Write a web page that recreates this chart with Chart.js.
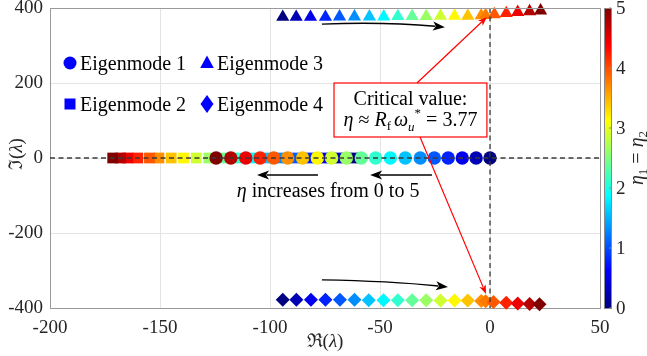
<!DOCTYPE html>
<html>
<head>
<meta charset="utf-8">
<script src="https://cdn.jsdelivr.net/npm/chart.js@4.4.1/dist/chart.umd.min.js"></script>
<style>
body { margin: 0; background: #fff; }
canvas { display: block; }
</style>
</head>
<body>
<canvas id="eigchart" width="647" height="356"></canvas>
<script>
// eta (colour) of every marker, mode 1/2 and mode 3/4 (3/4 has the critical 3.77 point)
const etaMode12 = [0, 0.26, 0.53, 0.79, 1.05, 1.32, 1.58, 1.84, 2.11, 2.37, 2.63, 2.89, 3.16, 3.42, 3.68, 3.95, 4.21, 4.47, 4.74, 5];
const etaMode34 = [0, 0.26, 0.53, 0.79, 1.05, 1.32, 1.58, 1.84, 2.11, 2.37, 2.63, 2.89, 3.16, 3.42, 3.68, 3.77, 3.95, 4.21, 4.47, 4.74, 5];

const mode1Re = [0, -6.3, -12.6, -19, -25.3, -31.7, -38.5, -45.3, -52, -58.5, -65.3, -72, -78.5, -85.2, -92, -98.3, -104.5, -111, -117.8, -124.5];
const mode1Im = [0, 0, 0, 0, 0, 0, 0, 0, 0, 0, 0, 0, 0, 0, 0, 0, 0, 0, 0, 0];
const mode2Re = [-61.6, -69.2, -75.2, -82, -88.9, -95.4, -101.7, -108.5, -115.4, -121, -127.8, -133.5, -139.3, -144.9, -150.5, -154.8, -160.1, -164.6, -167.9, -171.5];
const mode2Im = [0, 0, 0, 0, 0, 0, 0, 0, 0, 0, 0, 0, 0, 0, 0, 0, 0, 0, 0, 0];
const mode3Re = [-94.2, -88.1, -81.6, -74.8, -68.4, -61.6, -54.8, -48.3, -41.9, -35.4, -29, -22.5, -16.1, -10.1, -4, -2, 2, 7.4, 12.6, 18, 23];
const mode3Im = [376, 376, 376, 376, 377, 377, 377, 377, 378, 378, 378, 379, 379, 379, 380, 381, 383, 386, 389, 391, 393];
const mode4Re = [-94.2, -88, -81.4, -74.8, -68.2, -61.6, -55.1, -48.4, -41.9, -35.4, -29, -22.5, -16.1, -10.1, -4, -2, 1.6, 7.4, 12.6, 18, 22.5];
const mode4Im = [-378, -378, -378, -378, -378, -378, -379, -379, -379, -379, -379, -380, -380, -380, -381, -382, -384, -386, -388, -389, -390];

const xTicks = [-200, -150, -100, -50, 0, 50];
const yTicks = [-400, -200, 0, 200, 400];
const cbTicks = [0, 1, 2, 3, 4, 5];

const serif = '"Liberation Serif", serif';
const etaMax = 5;

function jet(t) {
    const c = v => Math.round(255 * Math.max(0, Math.min(1, v)));
    return 'rgb(' + c(1.5 - Math.abs(4 * t - 3)) + ',' + c(1.5 - Math.abs(4 * t - 2)) + ',' + c(1.5 - Math.abs(4 * t - 1)) + ')';
}

function pts(re, im) {
    return re.map((x, i) => ({ x: x, y: im[i] }));
}

// draws a list of text pieces [text, font, dy, extraGap] in a row
function runs(ctx, parts, x, y, align) {
    let w = 0;
    parts.forEach(p => { ctx.font = p[1]; w += ctx.measureText(p[0]).width + (p[3] || 0); });
    let cx = align === 'center' ? x - w / 2 : x;
    parts.forEach(p => {
        ctx.font = p[1];
        ctx.fillText(p[0], cx, y + (p[2] || 0));
        cx += ctx.measureText(p[0]).width + (p[3] || 0);
    });
}

function arrow(ctx, x0, y0, x1, y1, color, lw, head, cx, cy) {
    const hasCurve = cx !== undefined;
    const ang = hasCurve ? Math.atan2(y1 - cy, x1 - cx) : Math.atan2(y1 - y0, x1 - x0);
    const bx = x1 - Math.cos(ang) * head * 0.8, by = y1 - Math.sin(ang) * head * 0.8;
    ctx.save();
    ctx.strokeStyle = color;
    ctx.fillStyle = color;
    ctx.lineWidth = lw;
    ctx.beginPath();
    ctx.moveTo(x0, y0);
    if (hasCurve) ctx.quadraticCurveTo(cx, cy, bx, by); else ctx.lineTo(bx, by);
    ctx.stroke();
    const hw = head * 0.38;
    ctx.beginPath();
    ctx.moveTo(x1, y1);
    ctx.lineTo(x1 - Math.cos(ang) * head - Math.sin(ang) * hw, y1 - Math.sin(ang) * head + Math.cos(ang) * hw);
    ctx.lineTo(x1 - Math.cos(ang) * head * 0.75, y1 - Math.sin(ang) * head * 0.75);
    ctx.lineTo(x1 - Math.cos(ang) * head + Math.sin(ang) * hw, y1 - Math.sin(ang) * head - Math.cos(ang) * hw);
    ctx.closePath();
    ctx.fill();
    ctx.restore();
}

const extras = {
    id: 'extras',
    afterDatasetsDraw(chart) {
        const ctx = chart.ctx, a = chart.chartArea;
        const X = v => chart.scales.x.getPixelForValue(v);
        const Y = v => chart.scales.y.getPixelForValue(v);
        ctx.save();
        // dashed zero lines on top of the markers
        ctx.strokeStyle = '#3a3a3a';
        ctx.lineWidth = 1.3;
        ctx.setLineDash([5, 3.5]);
        ctx.beginPath();
        ctx.moveTo(a.left, Y(0)); ctx.lineTo(a.right, Y(0));
        ctx.moveTo(X(0), a.top); ctx.lineTo(X(0), a.bottom);
        ctx.stroke();
        ctx.setLineDash([]);
        // top / right box lines
        ctx.strokeStyle = '#9a9a9a';
        ctx.lineWidth = 1;
        ctx.beginPath();
        ctx.moveTo(a.left, a.top + 0.5); ctx.lineTo(a.right + 0.5, a.top + 0.5); ctx.lineTo(a.right + 0.5, a.bottom);
        ctx.stroke();
        ctx.restore();
    },
    afterDraw(chart) {
        const ctx = chart.ctx, a = chart.chartArea;
        const X = v => chart.scales.x.getPixelForValue(v);
        const Y = v => chart.scales.y.getPixelForValue(v);
        ctx.save();
        ctx.fillStyle = '#000';
        ctx.textBaseline = 'alphabetic';

        // legend
        const blue = '#0000ff';
        ctx.fillStyle = blue;
        const lx1 = a.left + 20, lx2 = a.left + 157, ly1 = a.top + 55, ly2 = a.top + 96;
        ctx.beginPath(); ctx.arc(lx1, ly1, 6.5, 0, Math.PI * 2); ctx.fill();
        ctx.beginPath(); ctx.moveTo(lx2, ly1 - 7.5); ctx.lineTo(lx2 + 6.8, ly1 + 5); ctx.lineTo(lx2 - 6.8, ly1 + 5); ctx.closePath(); ctx.fill();
        ctx.fillRect(lx1 - 5.5, ly2 - 5.5, 11, 11);
        ctx.beginPath(); ctx.moveTo(lx2, ly2 - 9); ctx.lineTo(lx2 + 6.5, ly2); ctx.lineTo(lx2, ly2 + 9); ctx.lineTo(lx2 - 6.5, ly2); ctx.closePath(); ctx.fill();
        ctx.fillStyle = '#000';
        ctx.font = '20px ' + serif;
        ctx.fillText('Eigenmode 1', lx1 + 10, ly1 + 6.5);
        ctx.fillText('Eigenmode 3', lx2 + 10, ly1 + 6.5);
        ctx.fillText('Eigenmode 2', lx1 + 10, ly2 + 6.5);
        ctx.fillText('Eigenmode 4', lx2 + 10, ly2 + 6.5);

        // black arrows showing direction of increasing eta
        arrow(ctx, X(-76.4), Y(357), X(-20.5), Y(349), '#000', 1.5, 12, X(-47.7), Y(363));
        arrow(ctx, X(-76.4), Y(-325), X(-19.1), Y(-344), '#000', 1.5, 12, X(-45.5), Y(-328));
        arrow(ctx, X(-78.2), Y(-45.3), X(-105.9), Y(-45.3), '#000', 1.5, 12);
        arrow(ctx, X(-26.4), Y(-45.3), X(-54.5), Y(-45.3), '#000', 1.5, 12);
        ctx.fillStyle = '#000';
        runs(ctx, [['η', 'italic 20px ' + serif], [' increases from 0 to 5', '20px ' + serif]], X(-73.6), Y(-103), 'center');

        // critical value box + red arrows
        const bx0 = X(-70.9), bx1 = X(-1.4), by0 = Y(200), by1 = Y(56);
        ctx.fillStyle = '#fff';
        ctx.fillRect(bx0, by0, bx1 - bx0, by1 - by0);
        ctx.strokeStyle = '#ff0000';
        ctx.lineWidth = 1.2;
        ctx.strokeRect(bx0, by0, bx1 - bx0, by1 - by0);
        arrow(ctx, X(-33.2), by0, X(-1.4), Y(376), '#ff0000', 1.2, 9);
        arrow(ctx, X(-31.8), by1, X(-1.8), Y(-362.7), '#ff0000', 1.2, 9);
        ctx.fillStyle = '#000';
        const bc = (bx0 + bx1) / 2;
        runs(ctx, [['Critical value:', '20px ' + serif]], bc, by0 + 22, 'center');
        runs(ctx, [
            ['η', 'italic 20px ' + serif],
            [' ≈ ', '20px ' + serif],
            ['R', 'italic 20px ' + serif],
            ['f', '13px ' + serif, 4, 3],
            ['ω', 'italic 20px ' + serif],
            ['u', 'italic 13px ' + serif, 5],
            ['*', '13px ' + serif, -9],
            [' = 3.77', '20px ' + serif]
        ], bc, by0 + 43, 'center');

        // axis titles
        ctx.fillStyle = '#262626';
        ctx.textAlign = 'left';
        runs(ctx, [['ℜ(', '19px ' + serif], ['λ', 'italic 19px ' + serif], [')', '19px ' + serif]], (a.left + a.right) / 2, 347, 'center');
        ctx.save();
        ctx.translate(22, (a.top + a.bottom) / 2 - 4);
        ctx.rotate(-Math.PI / 2);
        runs(ctx, [['ℑ(', '19px ' + serif], ['λ', 'italic 19px ' + serif], [')', '19px ' + serif]], 0, 0, 'center');
        ctx.restore();

        // colour bar
        const cx0 = a.right + 4, cw = 7;
        const grad = ctx.createLinearGradient(0, a.bottom, 0, a.top);
        for (let i = 0; i <= 16; i++) grad.addColorStop(i / 16, jet(i / 16));
        ctx.fillStyle = grad;
        ctx.fillRect(cx0, a.top, cw, a.bottom - a.top);
        ctx.strokeStyle = '#8a8a8a';
        ctx.lineWidth = 1;
        ctx.strokeRect(cx0 + 0.5, a.top + 0.5, cw, a.bottom - a.top);
        ctx.fillStyle = '#262626';
        ctx.font = '19px ' + serif;
        ctx.textBaseline = 'middle';
        cbTicks.forEach(t => {
            const y = a.bottom - (a.bottom - a.top) * t / etaMax;
            ctx.beginPath(); ctx.moveTo(cx0 + cw - 2, y); ctx.lineTo(cx0 + cw, y); ctx.stroke();
            ctx.fillText(String(t), cx0 + cw + 5, y + 1);
        });
        ctx.textBaseline = 'alphabetic';
        ctx.save();
        ctx.translate(643, (a.top + a.bottom) / 2);
        ctx.rotate(-Math.PI / 2);
        runs(ctx, [
            ['η', 'italic 20px ' + serif],
            ['1', '13px ' + serif, 4],
            [' = ', '20px ' + serif],
            ['η', 'italic 20px ' + serif],
            ['2', '13px ' + serif, 4]
        ], 0, 0, 'center');
        ctx.restore();
        ctx.restore();
    }
};

const ds = (label, re, im, eta, style, r) => ({
    label: label,
    data: pts(re, im),
    pointStyle: style,
    pointRadius: r,
    pointHoverRadius: r,
    pointBackgroundColor: eta.map(e => jet(e / etaMax)),
    pointBorderColor: eta.map(e => jet(e / etaMax)),
    pointBorderWidth: 0,
    showLine: false,
    clip: false
});

function makeChart() {
    new Chart(document.getElementById('eigchart'), {
        type: 'scatter',
        data: {
            datasets: [
                ds('Eigenmode 1', mode1Re, mode1Im, etaMode12, 'circle', 6.7),
                ds('Eigenmode 2', mode2Re, mode2Im, etaMode12, 'rect', 7.6),
                ds('Eigenmode 3', mode3Re, mode3Im, etaMode34, 'triangle', 7.6),
                ds('Eigenmode 4', mode4Re, mode4Im, etaMode34, 'rectRot', 7)
            ]
        },
        options: {
            responsive: false,
            animation: false,
            devicePixelRatio: 1,
            layout: { padding: { top: 8, right: 47, left: 0, bottom: 0 } },
            plugins: { legend: { display: false }, tooltip: { enabled: false } },
            scales: {
                x: {
                    type: 'linear',
                    min: -200, max: 50,
                    afterBuildTicks: s => { s.ticks = xTicks.map(v => ({ value: v })); },
                    afterFit: s => { s.height = 48; s.paddingLeft = 0; s.paddingRight = 0; },
                    grid: { color: '#e4e4e4', drawTicks: false },
                    border: { color: '#9a9a9a' },
                    ticks: { color: '#262626', padding: 9, maxRotation: 0, font: { family: serif, size: 19 } }
                },
                y: {
                    type: 'linear',
                    min: -400, max: 400,
                    afterBuildTicks: s => { s.ticks = yTicks.map(v => ({ value: v })); },
                    afterFit: s => { s.width = 50; s.paddingTop = 0; s.paddingBottom = 0; },
                    grid: { color: '#e4e4e4', drawTicks: false },
                    border: { color: '#9a9a9a' },
                    ticks: { color: '#262626', padding: 7, font: { family: serif, size: 19 } }
                }
            }
        },
        plugins: [extras]
    });
}

Promise.all([
    document.fonts.load('20px "Liberation Serif"'),
    document.fonts.load('italic 20px "Liberation Serif"')
]).then(makeChart, makeChart);
</script>
</body>
</html>
